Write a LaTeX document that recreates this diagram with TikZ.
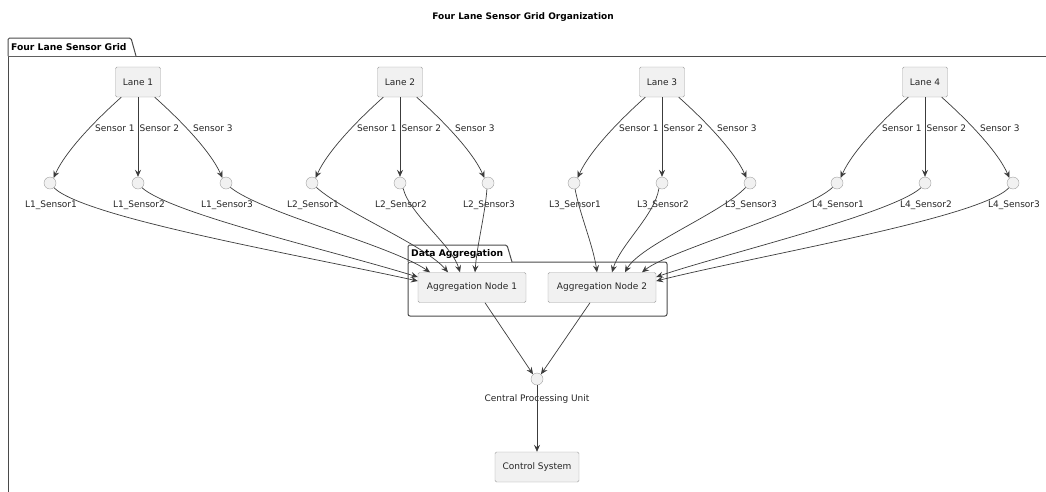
\documentclass[tikz,border=0pt]{standalone}
\usepackage{fontspec}
\setmainfont{DejaVu Sans}
\usetikzlibrary{arrows.meta}
\definecolor{boxfill}{HTML}{F1F1F1}
\definecolor{boxdraw}{HTML}{A0A0A0}
\definecolor{edgec}{HTML}{3C3C3C}
\definecolor{pkg}{HTML}{4A4A4A}
\tikzset{
  basefont/.style={font=\fontsize{9}{11}\selectfont},
  box/.style={draw=boxdraw, fill=boxfill, rounded corners=1.5pt, minimum height=30pt, inner xsep=6pt, basefont, text=black!85},
  sensor/.style={circle, draw=boxdraw, fill=boxfill, minimum size=12pt, inner sep=0pt},
  lbl/.style={basefont, text=black!85, inner sep=1pt},
  conn/.style={draw=edgec, line width=0.7pt, -{Stealth[length=7pt,width=6pt,inset=2.5pt]}},
  pkgline/.style={draw=pkg, line width=1pt},
  pkglbl/.style={font=\bfseries\fontsize{9.2}{11}\selectfont, inner sep=0pt, anchor=west}
}
\begin{document}
\begin{tikzpicture}[x=1pt,y=-1pt]
\useasboundingbox (0,0) rectangle (1046,491);
\fill[white] (0,0) rectangle (1046,491);
% title
\node[font=\bfseries\fontsize{9}{11}\selectfont] (title) at (523,17) {Four Lane Sensor Grid Organization};
% outer package
\draw[pkgline] (8,495) -- (8,56) -- (1050,56);
\draw[pkgline, fill=white, rounded corners=1.5pt] (8,56) -- (8,38) -- (131,38) [sharp corners] -- (136,56);
\node[pkglbl] (pkgA) at (11,47.5) {Four Lane Sensor Grid};
% data aggregation package
\draw[pkgline, rounded corners=2pt] (408,262) rectangle (667,316);
\draw[pkgline, fill=white, rounded corners=1.5pt] (408,262) -- (408,245) -- (507,245) [sharp corners] -- (512,262);
\node[pkglbl] (pkgB) at (411,254) {Data Aggregation};
% lanes and sensors
\foreach \i/\X in {1/138,2/400,3/662,4/925}{
  \node[box, minimum width=45pt] (lane\i) at (\X,82) {Lane \i};
  \foreach \j/\dx in {1/-88,2/0,3/88}{
    \node[sensor] (s\i\j) at (\X+\dx,183) {};
    \node[lbl] (l\i\j) at (\X+\dx+1,205) {L\i\_Sensor\j};
  }
  \node[lbl, anchor=west] (e\i a) at (\X-44,128) {Sensor 1};
  \node[lbl, anchor=west] (e\i b) at (\X+0.5,128) {Sensor 2};
  \node[lbl, anchor=west] (e\i c) at (\X+54,128) {Sensor 3};
  \draw[conn] ([xshift=6pt]lane\i.south west) .. controls (\X-40,118) and (\X-72,150) .. (s\i1.55);
  \draw[conn] (lane\i.south) -- (s\i2.north);
  \draw[conn] ([xshift=-6pt]lane\i.south east) .. controls (\X+40,118) and (\X+72,150) .. (s\i3.125);
}
% aggregation nodes
\node[box, minimum width=108pt] (agg1) at (472,287.5) {Aggregation Node 1};
\node[box, minimum width=108pt] (agg2) at (602,287.5) {Aggregation Node 2};
% sensor -> aggregation
\draw[conn] (s11.-50) .. controls (85,218) and (300,255) .. ([yshift=6.5pt]agg1.west);
\draw[conn] (s12.-50) .. controls (172,214) and (330,250) .. ([yshift=10.5pt]agg1.west);
\draw[conn] (s13.-45) .. controls (262,213) and (390,245) .. ([xshift=-42pt]agg1.north);
\draw[conn] (s21.-45) .. controls (345,213) and (425,245) .. ([xshift=-24pt]agg1.north);
\draw[conn] (s22.-60) .. controls (410,215) and (452,245) .. ([xshift=-12pt]agg1.north);
\draw[conn] (s23.-100) .. controls (485,215) and (477,245) .. ([xshift=3pt]agg1.north);
\draw[conn] (s31.-80) .. controls (580,215) and (593,245) .. ([xshift=-5pt]agg2.north);
\draw[conn] (s32.-120) .. controls (655,215) and (620,245) .. ([xshift=10pt]agg2.north);
\draw[conn] (s33.-135) .. controls (722,213) and (640,245) .. ([xshift=23pt]agg2.north);
\draw[conn] (s41.-135) .. controls (805,213) and (670,250) .. ([xshift=40pt]agg2.north);
\draw[conn] (s42.-130) .. controls (892,214) and (720,255) .. ([yshift=10.5pt]agg2.east);
\draw[conn] (s43.-130) .. controls (980,218) and (760,255) .. ([yshift=6.5pt]agg2.east);
% CPU and control
\node[sensor] (cpu) at (537,379) {};
\node[lbl] (cpulbl) at (537,399) {Central Processing Unit};
\node[box, minimum width=84pt] (ctrl) at (537,467) {Control System};
\draw[conn] ([xshift=13pt]agg1.south) -- (cpu.130);
\draw[conn] ([xshift=-12pt]agg2.south) -- (cpu.50);
\draw[conn] (cpu.south) -- (ctrl.north);
\end{tikzpicture}
\end{document}
